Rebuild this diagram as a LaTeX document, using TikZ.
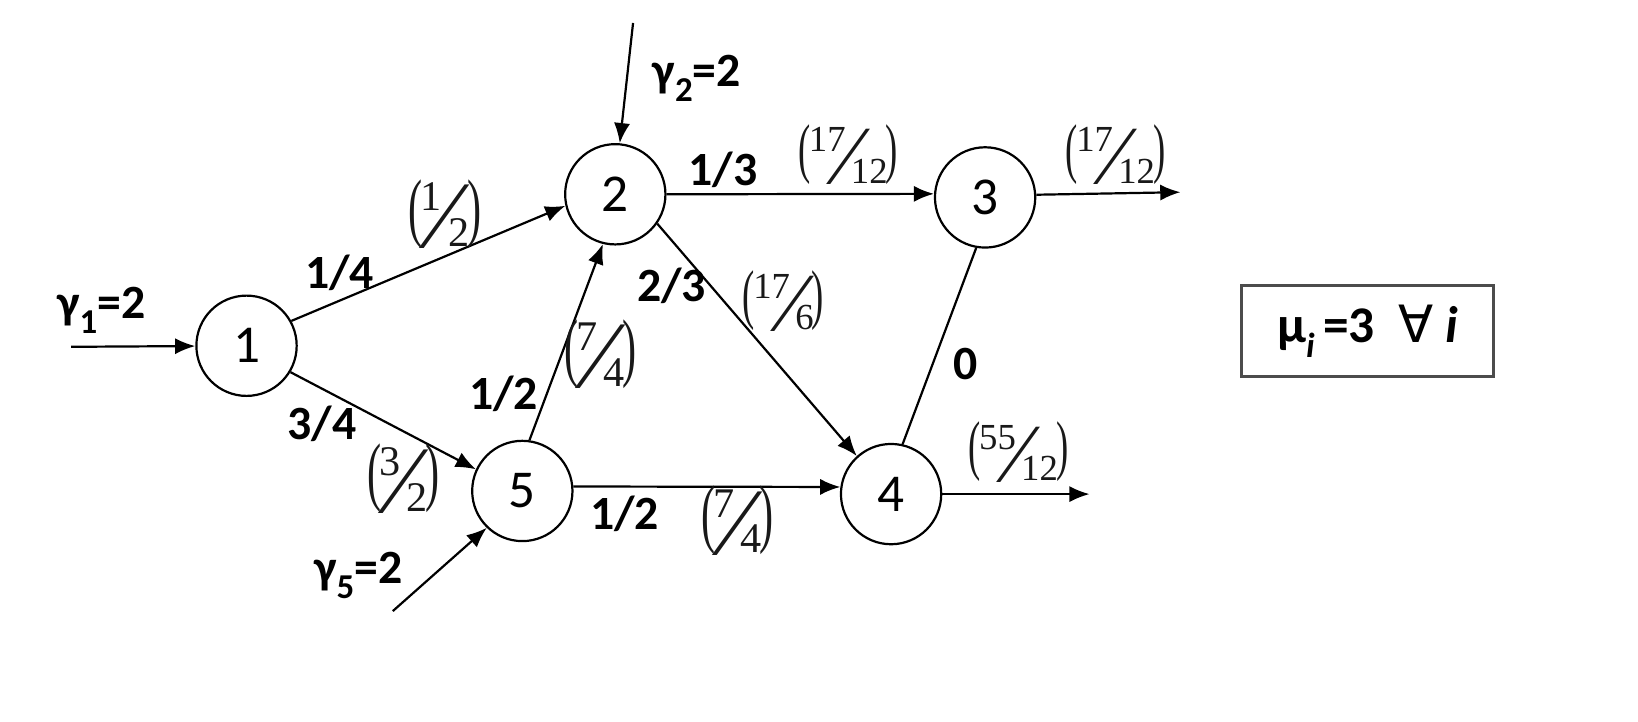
\documentclass[tikz,border=0pt]{standalone}
\usepackage{fontspec}
\usepackage{graphicx}
\setmainfont{Carlito}
\newfontfamily\tnr{Liberation Serif}
\newfontfamily\djv{DejaVu Sans}
\usetikzlibrary{arrows.meta}
% slanted fraction in round brackets
\newcommand{\ratio}[3][10pt]{{\fontsize{#1}{#1}\selectfont\tnr
  \scalebox{1}[1.8]{(}\kern-.05em
  \raisebox{.5em}{#2}\kern-.12em
  \raisebox{-.4em}{\scalebox{2.3}{\char"2044}}\kern-.12em
  \raisebox{-.35em}{#3}\kern-.05em
  \scalebox{1}[1.8]{)}}}
\newcommand{\lo}[1]{\raisebox{-.3em}{\fontsize{9.5}{10}\selectfont #1}}

\begin{document}
\begin{tikzpicture}[>={Latex[length=5.5pt,width=4.4pt]}, line width=.6pt,
  state/.style={circle, draw, minimum size=.96cm, inner sep=0pt, font=\fontsize{14.5}{16}\selectfont},
  lab/.style={inner sep=0pt, font=\fontsize{13}{15}\selectfont\bfseries},
  frac/.style={inner sep=0pt, text=black!90}]
\useasboundingbox (0,0) rectangle (15.68,6.91);

\node[state] (n1) at (2.36,3.60) {1};
\node[state] (n2) at (5.89,5.05) {2};
\node[state] (n3) at (9.43,5.02) {3};
\node[state] (n4) at (8.53,2.18) {4};
\node[state] (n5) at (5.00,2.21) {5};

\coordinate (g1) at (0.68,3.59);
\coordinate (g2) at (6.06,6.69);
\coordinate (g5) at (3.76,1.06);
\coordinate (o3) at (11.30,5.07);
\coordinate (o4) at (10.43,2.18);

\draw[->] (g1)--(n1);
\draw[->] (g2)--(n2.85);
\draw[->] (g5)--(n5.226);
\draw[->] (n1.29)--(n2.193);
\draw[->] (n1.-31)--(n5.155);
\draw[->] (n5.82)--(n2.256);
\draw[->] (n2.east)--(n3.176);
\draw[->] (n2.-35)--(n4.132);
\draw (n3.260)--(n4.77);
\draw[->] (n5.5)--(n4.172);
\draw[->] (n3.3)--(o3);
\draw[->] (n4.east)--(o4);

\node[lab] (l1) at (0.97,3.94) {γ\lo{1}=2};
\node[lab] (l2) at (6.67,6.16) {γ\lo{2}=2};
\node[lab] (l5) at (3.43,1.40) {γ\lo{5}=2};

\node[lab] (p12) at (3.25,4.30) {1/4};
\node[lab] (p15) at (3.08,2.85) {3/4};
\node[lab] (p52) at (4.82,3.14) {1/2};
\node[lab] (p23) at (6.92,5.28) {1/3};
\node[lab] (p24) at (6.43,4.17) {2/3};
\node[lab] (p34) at (9.24,3.43) {0};
\node[lab] (p54) at (5.98,1.99) {1/2};

\node[frac] (f12) at (4.26,4.86) {\ratio[11.5pt]{1}{2}};
\node[frac] (f15) at (3.86,2.33) {\ratio[11.5pt]{3}{2}};
\node[frac] (f52) at (5.75,3.52) {\ratio[11.5pt]{7}{4}};
\node[frac] (f23) at (8.12,5.43) {\ratio{17}{12}};
\node[frac] (f24) at (7.50,4.03) {\ratio{17}{6}};
\node[frac] (f54) at (7.06,1.93) {\ratio[11.5pt]{7}{4}};
\node[frac] (f3) at (10.68,5.43) {\ratio{17}{12}};
\node[frac] (f4) at (9.75,2.58) {\ratio{55}{12}};

\node[draw=black!70, line width=.9pt, minimum width=2.41cm, minimum height=.87cm,
  font=\fontsize{14}{16}\selectfont\bfseries] (mu) at (13.09,3.74)
  {μ\lo{\itshape i}\,=3\ \ {\djv\mdseries ∀} \itshape i};
\end{tikzpicture}
\end{document}
